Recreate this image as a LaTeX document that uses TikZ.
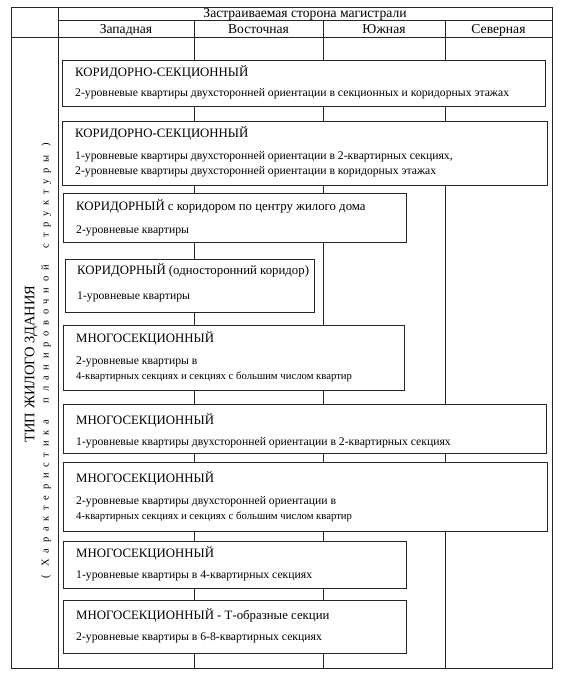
\documentclass[tikz,border=0pt]{standalone}
\usepackage{fontspec}
\setmainfont{Liberation Serif}
\usetikzlibrary{positioning}

\tikzset{
  gridline/.style={draw=black!85, line width=0.6pt},
  boxframe/.style={draw=black!85, fill=white, line width=0.6pt, anchor=north west,
    inner sep=0pt, outer sep=0pt},
  headtext/.style={anchor=base, inner sep=0pt, font=\fontsize{13.6}{15}\selectfont},
  boxtitle/.style={anchor=base west, inner sep=0pt, font=\fontsize{12.8}{14}\selectfont},
  boxtext/.style={anchor=base west, inner sep=0pt, font=\fontsize{11.7}{13}\selectfont},
  boxtextnarrow/.style={boxtext, font=\fontsize{10.7}{13}\selectfont},
}

\begin{document}
\begin{tikzpicture}[x=1pt,y=-1pt]
  \useasboundingbox (0,0) rectangle (563,679);
  % frame and header rows
  \draw[gridline] (11,7) rectangle (552,668);
  \draw[gridline] (58,7) -- (58,668);
  \draw[gridline] (58,20) -- (552,20);
  \draw[gridline] (11,37) -- (552,37);
  \foreach \x [count=\i] in {194,323,445} {
    \coordinate (coltop\i) at (\x,20);
    \coordinate (colbot\i) at (\x,668);
    \draw[gridline] (coltop\i) -- (colbot\i);
  }
  \node[headtext] (side) at (305,18) {Застраиваемая сторона магистрали};
  \node[headtext] (west) at (126,33.5) {Западная};
  \node[headtext] (east) at (258.5,33.5) {Восточная};
  \node[headtext] (south) at (384,33.5) {Южная};
  \node[headtext] (north) at (498.5,33.5) {Северная};
  % side captions
  \node[rotate=90, inner sep=0pt, font=\fontsize{14.5}{16}\selectfont] (type) at (31,364) {ТИП ЖИЛОГО ЗДАНИЯ};
  \node[rotate=90, inner sep=0pt, font=\fontsize{10.5}{12}\selectfont\addfontfeature{LetterSpace=55}] (struct) at (46,361)
    {( Характеристика\ \ планировочной\ \ структуры )};
  % building types
  \node[boxframe, minimum width=483pt, minimum height=46pt] (box1) at (62,60) {};
  \node[boxtitle] (title1) at (75,77) {КОРИДОРНО-СЕКЦИОННЫЙ};
  \node[boxtext] (text1) at (75,97) {2-уровневые квартиры двухсторонней ориентации в секционных и коридорных этажах};

  \node[boxframe, minimum width=485pt, minimum height=64pt] (box2) at (62,121) {};
  \node[boxtitle] (title2) at (75,138) {КОРИДОРНО-СЕКЦИОННЫЙ};
  \node[boxtext] (text2a) at (75,160) {1-уровневые квартиры двухсторонней ориентации в 2-квартирных секциях,};
  \node[boxtext] (text2b) at (75,175) {2-уровневые квартиры двухсторонней ориентации в коридорных этажах};

  \node[boxframe, minimum width=343pt, minimum height=49pt] (box3) at (63,193) {};
  \node[boxtitle] (title3) at (76,210) {КОРИДОРНЫЙ с коридором по центру жилого дома};
  \node[boxtext] (text3) at (76,233) {2-уровневые квартиры};

  \node[boxframe, minimum width=249pt, minimum height=53pt] (box4) at (65,259) {};
  \node[boxtitle] (title4) at (77,274) {КОРИДОРНЫЙ (односторонний коридор)};
  \node[boxtext] (text4) at (77,299) {1-уровневые квартиры};

  \node[boxframe, minimum width=341pt, minimum height=65pt] (box5) at (63,325) {};
  \node[boxtitle] (title5) at (76,342) {МНОГОСЕКЦИОННЫЙ};
  \node[boxtext] (text5a) at (76,364) {2-уровневые квартиры в};
  \node[boxtextnarrow] (text5b) at (76,379) {4-квартирных секциях и секциях с большим числом квартир};

  \node[boxframe, minimum width=483pt, minimum height=49pt] (box6) at (63,404) {};
  \node[boxtitle] (title6) at (76,424) {МНОГОСЕКЦИОННЫЙ};
  \node[boxtext] (text6) at (76,445) {1-уровневые квартиры двухсторонней ориентации в 2-квартирных секциях};

  \node[boxframe, minimum width=484pt, minimum height=69pt] (box7) at (63,462) {};
  \node[boxtitle] (title7) at (76,482) {МНОГОСЕКЦИОННЫЙ};
  \node[boxtext] (text7a) at (76,504) {2-уровневые квартиры двухсторонней ориентации в};
  \node[boxtextnarrow] (text7b) at (76,519) {4-квартирных секциях и секциях с большим числом квартир};

  \node[boxframe, minimum width=343pt, minimum height=47pt] (box8) at (63,541) {};
  \node[boxtitle] (title8) at (76,557) {МНОГОСЕКЦИОННЫЙ};
  \node[boxtext] (text8) at (76,578) {1-уровневые квартиры в 4-квартирных секциях};

  \node[boxframe, minimum width=343pt, minimum height=53pt] (box9) at (63,600) {};
  \node[boxtitle] (title9) at (76,619) {МНОГОСЕКЦИОННЫЙ - Т-образные секции};
  \node[boxtext] (text9) at (76,640) {2-уровневые квартиры в 6-8-квартирных секциях};
\end{tikzpicture}
\end{document}
